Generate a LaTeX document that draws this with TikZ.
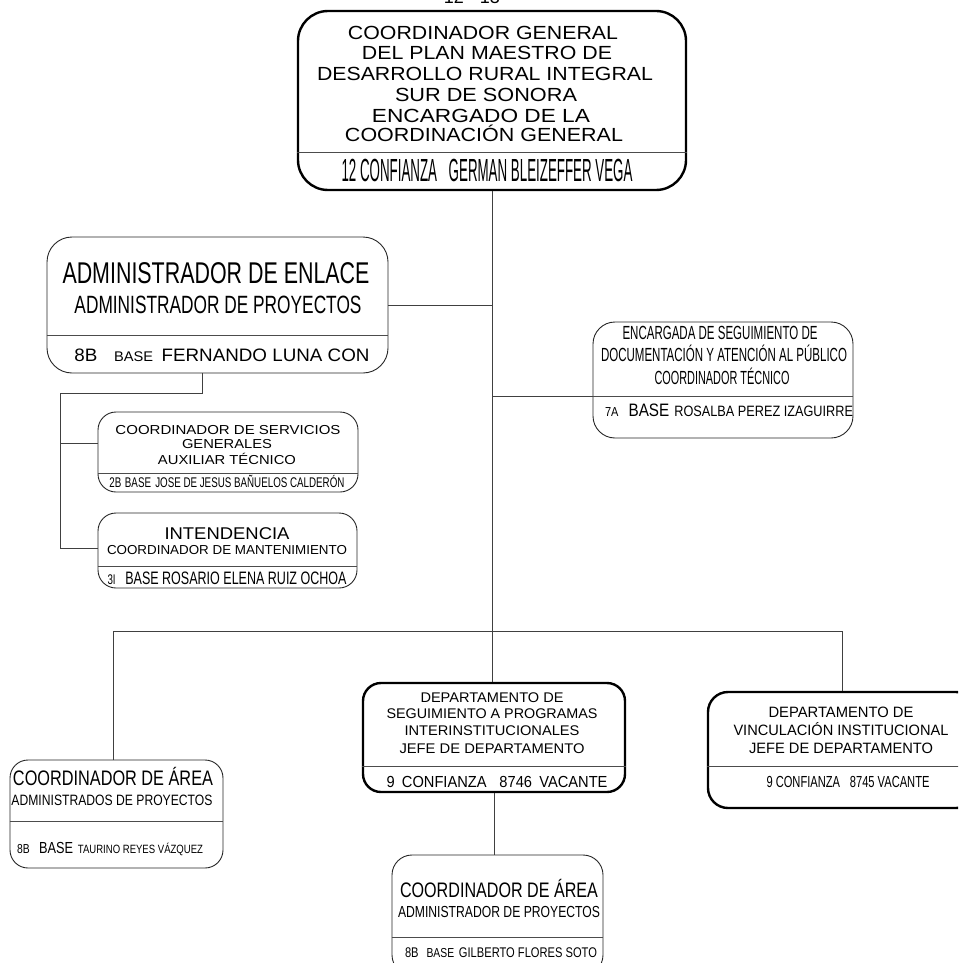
\documentclass[tikz,border=0pt]{standalone}
\usepackage{fontspec}
\setmainfont{Liberation Sans}
\usepackage{graphicx}
\newcommand\fs[1]{\fontsize{#1}{#1}\selectfont}
\newcommand\fw[2]{\resizebox{#1pt}{\height}{#2}}
\newcommand\lab[6]{\node[lbl, font=\fs{#4}] (#1) at (#2,{#3+0.358*#4}) {\fw{#5}{#6}};}
\begin{document}
\begin{tikzpicture}[x=1pt,y=-1pt,
  thinbox/.style={draw=black!85, line width=0.9pt, inner sep=0pt},
  thickbox/.style={draw=black, line width=2.4pt, inner sep=0pt},
  divline/.style={draw=black!70, line width=0.8pt},
  conn/.style={draw=black!75, line width=0.8pt},
  lbl/.style={inner sep=0pt, anchor=base}]
\useasboundingbox (0,0) rectangle (958,963);
\clip (0,0) rectangle (958,963);

% partial header text (clipped at top, as in the reference)
\node[lbl, font=\fs{18}] (pg) at (472,4) {12 - 13};

% ---------- boxes ----------
\node[thickbox, rounded corners=30pt, minimum width=388pt, minimum height=179pt] (top) at (492,100.5) {};
\draw[divline] (top.west |- 0,152) -- (top.east |- 0,152);

\node[thinbox, rounded corners=25pt, minimum width=341pt, minimum height=136pt] (admin) at (217.5,305) {};
\draw[divline] (admin.west |- 0,335) -- (admin.east |- 0,335);

\node[thinbox, rounded corners=22pt, minimum width=260pt, minimum height=116pt] (enc) at (723,380) {};
\draw[divline] (enc.west |- 0,396) -- (enc.east |- 0,396);

\node[thinbox, rounded corners=18pt, minimum width=260pt, minimum height=80pt] (serv) at (228,452) {};
\draw[divline] (serv.west |- 0,473) -- (serv.east |- 0,473);

\node[thinbox, rounded corners=18pt, minimum width=259pt, minimum height=75pt] (inten) at (227.5,550.5) {};
\draw[divline] (inten.west |- 0,566) -- (inten.east |- 0,566);

\node[thinbox, rounded corners=18pt, minimum width=213pt, minimum height=108pt] (leftarea) at (116.5,814) {};
\draw[divline] (leftarea.west |- 0,821) -- (leftarea.east |- 0,821);

\node[thickbox, rounded corners=18pt, minimum width=262pt, minimum height=109pt] (mid) at (494,737.5) {};
\draw[divline] (mid.west |- 0,766) -- (mid.east |- 0,766);

\node[thickbox, rounded corners=20pt, minimum width=268pt, minimum height=116pt] (rdept) at (842,750) {};
\draw[divline] (rdept.west |- 0,766) -- (rdept.east |- 0,766);

\node[thinbox, rounded corners=20pt, minimum width=211pt, minimum height=120pt] (bot) at (497.5,915) {};
\draw[divline] (bot.west |- 0,937) -- (bot.east |- 0,937);

% ---------- connectors ----------
\draw[conn] (top.south) -- (top.south |- mid.north);
\draw[conn] (admin.east) -- (admin.east -| top.south);
\coordinate (ey) at (0,396);
\draw[conn] (top.south |- ey) -- (enc.west |- ey);
\coordinate (ja) at (202,393);
\coordinate (jb) at (60,393);
\coordinate (jc) at (60,548);
\coordinate (jd) at (60,443);
\draw[conn] (admin.south -| ja) -- (ja) -- (jb) -- (jc) -- (inten.west |- jc);
\draw[conn] (jd) -- (serv.west |- jd);
\coordinate (hl) at (113,631);
\coordinate (hr) at (842,631);
\draw[conn] (leftarea.north -| hl) -- (hl) -- (hr) -- (rdept.north -| hr);
\draw[conn] (mid.south) -- (mid.south |- bot.north);

% ---------- texts ----------
\lab{t1}{483}{33}{19}{270}{COORDINADOR GENERAL}
\lab{t2}{487}{53}{19}{250}{DEL PLAN MAESTRO DE}
\lab{t3}{485}{74}{19}{336}{DESARROLLO RURAL INTEGRAL}
\lab{t4}{486}{95}{19}{182}{SUR DE SONORA}
\lab{t5}{481}{116}{19}{218}{ENCARGADO DE LA}
\lab{t6}{484}{135}{19}{278}{COORDINACIÓN GENERAL}
\lab{t7}{487}{170}{32}{291}{12 CONFIANZA\hspace{28pt}GERMAN BLEIZEFFER VEGA}

\lab{a1}{216}{273}{30}{307}{ADMINISTRADOR DE ENLACE}
\lab{a2}{218}{305}{25}{287}{ADMINISTRADOR DE PROYECTOS}
\lab{a3}{222}{355}{18}{295}{8B\hspace{16pt}{\fs{14}BASE}\hspace{8pt}FERNANDO LUNA CON}

\lab{e1}{720}{333}{19}{195}{ENCARGADA DE SEGUIMIENTO DE}
\lab{e2}{724}{355}{19}{246}{DOCUMENTACIÓN Y ATENCIÓN AL PÚBLICO}
\lab{e3}{722}{378}{19}{135}{COORDINADOR TÉCNICO}
\lab{e4}{729}{410}{18}{248}{{\fs{13}7A}\hspace{12pt}BASE\hspace{6pt}{\fs{15}ROSALBA PEREZ IZAGUIRRE}}

\lab{s1}{228}{430}{13}{225}{COORDINADOR DE SERVICIOS}
\lab{s2}{227}{444}{13}{90}{GENERALES}
\lab{s3}{227}{460}{13}{138}{AUXILIAR TÉCNICO}
\lab{s4}{227}{482}{14}{235}{2B\hspace{5pt}BASE\hspace{6pt}JOSE DE JESUS BAÑUELOS CALDERÓN}

\lab{i1}{227}{533}{17}{125}{INTENDENCIA}
\lab{i2}{227}{550}{13}{240}{COORDINADOR DE MANTENIMIENTO}
\lab{i3}{227}{578}{18}{239}{{\fs{14}3I}\hspace{14pt}BASE ROSARIO ELENA RUIZ OCHOA}

\lab{l1}{113}{778}{21}{200}{COORDINADOR DE ÁREA}
\lab{l2}{112}{800}{15}{201}{ADMINISTRADOS DE PROYECTOS}
\lab{l3}{110}{848}{16}{186}{{\fs{13}8B}\hspace{12pt}BASE\hspace{6pt}{\fs{12}TAURINO REYES VÁZQUEZ}}

\lab{m1}{492}{697}{14}{143}{DEPARTAMENTO DE}
\lab{m2}{492}{713}{14}{211}{SEGUIMIENTO A PROGRAMAS}
\lab{m3}{492}{730}{14}{175}{INTERINSTITUCIONALES}
\lab{m4}{492}{748}{14}{185}{JEFE DE DEPARTAMENTO}
\lab{m5}{497}{782}{16}{221}{9\hspace{8pt}CONFIANZA\hspace{14pt}8746\hspace{8pt}VACANTE}

\lab{r1}{841}{712}{15}{145}{DEPARTAMENTO DE}
\lab{r2}{841}{730}{15}{215}{VINCULACIÓN INSTITUCIONAL}
\lab{r3}{841}{748}{15}{184}{JEFE DE DEPARTAMENTO}
\lab{r4}{848}{782}{16}{163}{9 CONFIANZA\hspace{14pt}8745 VACANTE}

\lab{b1}{499}{890}{21}{198}{COORDINADOR DE ÁREA}
\lab{b2}{499}{912}{16}{202}{ADMINISTRADOR DE PROYECTOS}
\lab{b3}{501}{952}{14}{192}{8B\hspace{10pt}{\fs{13}BASE}\hspace{6pt}GILBERTO FLORES SOTO}
\end{tikzpicture}
\end{document}
